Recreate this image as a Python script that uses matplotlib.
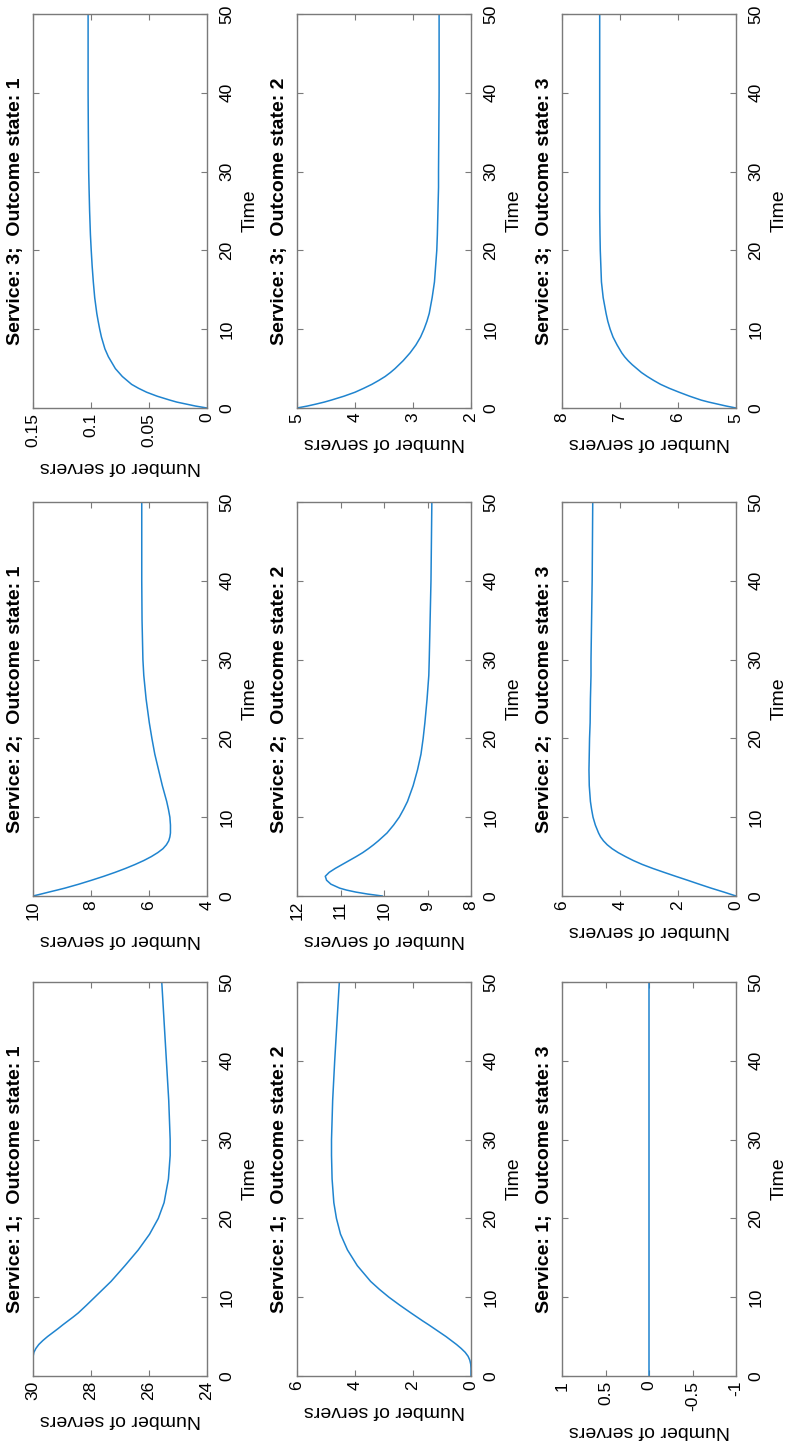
import matplotlib
matplotlib.use("Agg")
import matplotlib.pyplot as plt

plt.rcParams.update({
    "font.family": ["Liberation Sans", "DejaVu Sans"],
    "axes.unicode_minus": False,
})

# --- data (time vs number of servers) ---
time = [0, 0.25, 0.5, 0.75, 1, 1.5, 2, 2.5, 3, 3.5, 4, 4.5, 5, 5.5, 6, 6.5, 7, 7.5,
        8, 9, 10, 11, 12, 14, 16, 18, 20, 22, 25, 28, 30, 35, 40, 45, 50]

s1_o1 = [30, 30, 30, 30, 30, 30, 30, 29.995, 29.97, 29.9, 29.8, 29.66, 29.5, 29.32,
         29.14, 28.97, 28.79, 28.61, 28.44, 28.15, 27.87, 27.59, 27.31, 26.83, 26.37,
         25.98, 25.68, 25.48, 25.33, 25.27, 25.27, 25.32, 25.4, 25.48, 25.56]
s1_o2 = [0, 0, 0, 0, 0, 0.01, 0.04, 0.1, 0.2, 0.34, 0.5, 0.68, 0.86, 1.06, 1.26,
         1.46, 1.67, 1.87, 2.07, 2.46, 2.83, 3.16, 3.46, 3.92, 4.26, 4.5, 4.64, 4.73,
         4.79, 4.81, 4.81, 4.77, 4.7, 4.62, 4.54]
s1_o3 = [0, 0, 0, 0, 0, 0, 0, 0, 0, 0, 0, 0, 0, 0, 0, 0, 0, 0,
         0, 0, 0, 0, 0, 0, 0, 0, 0, 0, 0, 0, 0, 0, 0, 0, 0]
s2_o1 = [10, 9.72, 9.45, 9.17, 8.9, 8.42, 7.98, 7.56, 7.17, 6.81, 6.48, 6.18, 5.92,
         5.7, 5.52, 5.4, 5.32, 5.28, 5.26, 5.26, 5.28, 5.33, 5.39, 5.54, 5.67, 5.8,
         5.9, 5.99, 6.1, 6.18, 6.21, 6.24, 6.25, 6.25, 6.25]
s2_o2 = [10.04, 10.38, 10.65, 10.86, 11.02, 11.22, 11.32, 11.35, 11.26, 11.12, 10.96,
         10.8, 10.64, 10.49, 10.36, 10.24, 10.13, 10.03, 9.93, 9.78, 9.65, 9.55, 9.46,
         9.33, 9.23, 9.15, 9.1, 9.06, 9.01, 8.97, 8.96, 8.94, 8.92, 8.91, 8.9]
s2_o3 = [0, 0.21, 0.42, 0.64, 0.86, 1.27, 1.67, 2.08, 2.48, 2.87, 3.23, 3.54, 3.81,
         4.06, 4.27, 4.44, 4.57, 4.67, 4.74, 4.85, 4.93, 4.98, 5.02, 5.06, 5.07, 5.06,
         5.05, 5.03, 5.02, 5.0, 5.0, 4.98, 4.96, 4.95, 4.94]
s3_o1 = [0, 0.01, 0.018, 0.026, 0.032, 0.043, 0.052, 0.059, 0.065, 0.069, 0.073,
         0.076, 0.079, 0.081, 0.083, 0.085, 0.0865, 0.088, 0.089, 0.091, 0.0925,
         0.0938, 0.095, 0.0968, 0.098, 0.099, 0.0998, 0.1005, 0.1012, 0.1017, 0.102,
         0.1023, 0.1025, 0.1025, 0.1025]
s3_o2 = [5, 4.82, 4.67, 4.53, 4.41, 4.19, 4.0, 3.85, 3.71, 3.59, 3.48, 3.39, 3.31,
         3.24, 3.17, 3.11, 3.05, 3.0, 2.95, 2.87, 2.81, 2.76, 2.72, 2.67, 2.63, 2.61,
         2.59, 2.58, 2.57, 2.56, 2.56, 2.555, 2.55, 2.55, 2.55]
s3_o3 = [5, 5.17, 5.32, 5.47, 5.6, 5.8, 5.98, 6.15, 6.3, 6.42, 6.53, 6.63, 6.71,
         6.79, 6.86, 6.92, 6.97, 7.01, 7.05, 7.12, 7.17, 7.21, 7.24, 7.29, 7.32, 7.33,
         7.34, 7.345, 7.35, 7.35, 7.35, 7.35, 7.35, 7.35, 7.35]

# value-axis ticks per panel
ticks_s1 = [[24, 26, 28, 30], [0, 2, 4, 6], [-1, -0.5, 0, 0.5, 1]]
labels_s1 = [["24", "26", "28", "30"], ["0", "2", "4", "6"], ["-1", "-0.5", "0", "0.5", "1"]]
ticks_s2 = [[4, 6, 8, 10], [8, 9, 10, 11, 12], [0, 2, 4, 6]]
labels_s2 = [["4", "6", "8", "10"], ["8", "9", "10", "11", "12"], ["0", "2", "4", "6"]]
ticks_s3 = [[0, 0.05, 0.1, 0.15], [2, 3, 4, 5], [5, 6, 7, 8]]
labels_s3 = [["0", "0.05", "0.1", "0.15"], ["2", "3", "4", "5"], ["5", "6", "7", "8"]]
time_ticks = [0, 10, 20, 30, 40, 50]

services = [3, 2, 1]          # rows, top to bottom
outcomes = [1, 2, 3]          # columns, left to right
series = {3: [s3_o1, s3_o2, s3_o3], 2: [s2_o1, s2_o2, s2_o3], 1: [s1_o1, s1_o2, s1_o3]}
ticks = {3: ticks_s3, 2: ticks_s2, 1: ticks_s1}
labels = {3: labels_s3, 2: labels_s2, 1: labels_s1}

LINE = "#1f84cf"
EDGE = "#7a7a7a"

fig = plt.figure(figsize=(7.92, 14.44), dpi=100)
W, H = 792.0, 1444.0
col_left = [33, 297, 562]
row_top = [14, 502, 982]
box_w, box_h = 174, 394

for r, s in enumerate(services):
    for c, o in enumerate(outcomes):
        ax = fig.add_axes([col_left[c] / W, 1 - (row_top[r] + box_h) / H, box_w / W, box_h / H])
        ax.plot(series[s][c], time, color=LINE, linewidth=1.1)
        tk = ticks[s][c]
        ax.set_xlim(tk[-1], tk[0])
        ax.set_ylim(0, 50)
        ax.set_xticks(tk)
        ax.set_xticklabels(labels[s][c], rotation=90)
        ax.yaxis.tick_right()
        ax.yaxis.set_label_position("right")
        ax.set_yticks(time_ticks)
        ax.set_yticklabels([str(t) for t in time_ticks], rotation=90, va="center")
        ax.tick_params(axis="x", direction="in", length=4, width=0.8, color=EDGE,
                       top=True, bottom=True, labelsize=12.5, pad=3.5)
        ax.tick_params(axis="y", direction="in", length=4, width=0.8, color=EDGE,
                       left=True, right=True, labelleft=False, labelright=True,
                       labelsize=12.5, pad=9)
        for sp in ax.spines.values():
            sp.set_color(EDGE)
            sp.set_linewidth(1.0)
        ax.set_xlabel("Number of servers", rotation=180, fontsize=14, labelpad=8)
        ax.set_ylabel("Time", rotation=90, fontsize=14, labelpad=5)
        ax.text(-0.05, 0.5, f"Service: {s};  Outcome state: {o}", transform=ax.transAxes,
                rotation=90, ha="right", va="center", fontsize=14, fontweight="bold")

fig.savefig("out.png", dpi=100, facecolor="white")
